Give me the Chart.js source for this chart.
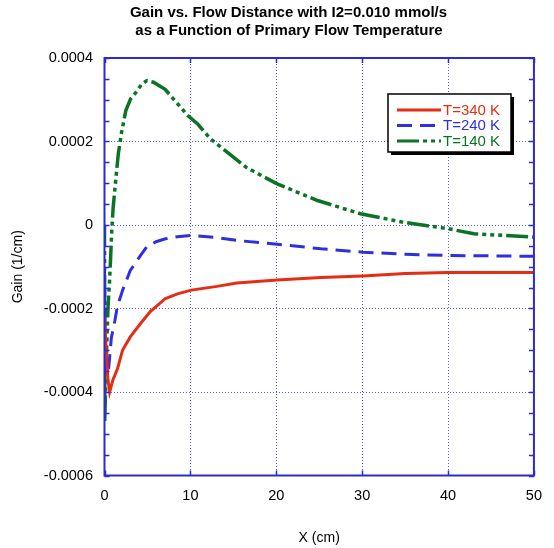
<!DOCTYPE html>
<html lang="en">
<head>
<meta charset="UTF-8">
<title>Gain vs. Flow Distance</title>
<style>
    body { margin: 0; background: #ffffff; }
    #wrap { width: 554px; height: 548px; }
</style>
<script src="https://cdn.jsdelivr.net/npm/chart.js"></script>
</head>
<body>
<div id="wrap"><canvas id="gainChart" width="554" height="548"></canvas></div>
<script>
    // Gain (1/cm) along the flow distance X (cm), one series per primary flow temperature
    const x340 = [0, 0.2, 0.4, 0.6, 1.0, 1.5, 2.1, 3.0, 4.2, 5.3, 7.1, 8.5, 10.1, 13.1, 15.4, 20.1, 25.2, 30.1, 35.0, 40.0, 45.0, 50.0];
    const gain340 = [-0.00022, -0.0003, -0.00037, -0.0004, -0.00037, -0.000345, -0.0003, -0.000268, -0.000236, -0.000208, -0.000176, -0.000165, -0.000156, -0.000147, -0.000139, -0.000132, -0.000126, -0.000122, -0.000116, -0.000114, -0.000114, -0.000114];

    const x240 = [0, 0.1, 0.3, 0.5, 0.8, 1.2, 1.5, 2.1, 3.0, 4.2, 4.9, 6.0, 7.1, 8.5, 10.1, 13.1, 15.4, 20.1, 25.2, 30.1, 35.0, 40.0, 45.0, 50.0];
    const gain240 = [-0.0001, -0.00033, -0.00036, -0.00034, -0.00027, -0.00023, -0.000195, -0.000157, -0.000109, -0.000073, -0.000053, -0.00004, -0.000033, -0.000028, -0.000025, -0.00003, -0.000037, -0.000046, -0.000057, -0.000065, -0.00007, -0.000073, -0.000074, -0.000075];

    const x140 = [0, 0.03, 0.2, 0.4, 0.6, 0.75, 0.85, 1.0, 1.16, 1.34, 1.61, 1.99, 2.48, 3.04, 3.6, 4.37, 4.94, 5.7, 7.06, 9.7, 10.84, 12.35, 16.5, 20.1, 24.8, 29.8, 34.7, 40.0, 43.0, 50.0];
    const gain140 = [0, -0.00047, -0.00033, -0.0002, -0.00013, -0.00006, -0.000013, 0.00004, 0.000075, 0.000115, 0.000171, 0.000222, 0.000274, 0.000302, 0.000316, 0.000338, 0.000346, 0.000342, 0.000325, 0.000262, 0.000242, 0.000206, 0.000138, 0.0000986, 0.0000587, 0.000027, 0.0000069, -0.0000088, -0.000021, -0.000029];

    const seriesNames = ['T=340 K', 'T=240 K', 'T=140 K'];
    const xTicks = [0, 10, 20, 30, 40, 50];
    const yTicks = [-0.0006, -0.0004, -0.0002, 0, 0.0002, 0.0004];
    const yTickLabels = ['-0.0006', '-0.0004', '-0.0002', '0', '0.0002', '0.0004'];

    const FONT = 'Arial, "Liberation Sans", sans-serif';
    const AXIS_BLUE = '#2b2bd6';
    const colors = ['#e42d12', '#2f2fe0', '#0b7323'];
    const dashes = [[], [15, 8], [22, 4, 4, 4, 4, 4, 4, 4]];

    function toPoints(xs, ys) {
        return xs.map((x, i) => ({ x: x, y: ys[i] }));
    }

    // frame, inward tick marks, title and boxed legend
    const decorations = {
        id: 'decorations',
        afterDatasetsDraw(chart) {
            const ctx = chart.ctx;
            const a = chart.chartArea;
            const xs = chart.scales.x, ys = chart.scales.y;
            ctx.save();

            ctx.strokeStyle = AXIS_BLUE;
            ctx.lineWidth = 1.5;
            ctx.beginPath();
            for (let v = -0.0006; v <= 0.00041; v += 0.00005) {
                const py = Math.round(ys.getPixelForValue(v)) + 0.5;
                ctx.moveTo(a.left, py); ctx.lineTo(a.left + 5, py);
                ctx.moveTo(a.right, py); ctx.lineTo(a.right - 5, py);
            }
            xTicks.forEach(t => {
                const px = Math.round(xs.getPixelForValue(t)) + 0.5;
                ctx.moveTo(px, a.bottom); ctx.lineTo(px, a.bottom - 5);
                ctx.moveTo(px, a.top); ctx.lineTo(px, a.top + 5);
            });
            ctx.stroke();
            ctx.lineWidth = 2;
            ctx.strokeRect(a.left, a.top, a.right - a.left, a.bottom - a.top);

            ctx.fillStyle = '#000';
            ctx.font = 'bold 15px ' + FONT;
            ctx.textAlign = 'center';
            ctx.textBaseline = 'middle';
            ctx.fillText('Gain vs. Flow Distance with I2=0.010 mmol/s', 288.5, 13);
            ctx.fillText('as a Function of Primary Flow Temperature', 289, 31);

            // legend box with drop shadow
            const bx = 388, by = 94, bw = 123, bh = 58;
            ctx.fillStyle = '#000';
            ctx.fillRect(bx + 3, by + 3, bw, bh);
            ctx.fillStyle = '#fff';
            ctx.fillRect(bx, by, bw, bh);
            ctx.strokeStyle = '#000';
            ctx.lineWidth = 1.5;
            ctx.strokeRect(bx, by, bw, bh);
            ctx.font = '15px ' + FONT;
            ctx.textAlign = 'left';
            seriesNames.forEach((name, i) => {
                const ry = 110 + i * 15.5;
                ctx.strokeStyle = colors[i];
                ctx.lineWidth = 3;
                ctx.setLineDash(dashes[i]);
                ctx.beginPath();
                ctx.moveTo(397, ry);
                ctx.lineTo(441, ry);
                ctx.stroke();
                ctx.setLineDash([]);
                ctx.fillStyle = colors[i];
                ctx.fillText(name, 443, ry + 0.5);
            });
            ctx.restore();
        }
    };

    const ctxGain = document.getElementById('gainChart').getContext('2d');
    const gainChart = new Chart(ctxGain, {
        type: 'line',
        data: {
            datasets: [
                { label: seriesNames[0], data: toPoints(x340, gain340), borderColor: colors[0], borderWidth: 3, borderDash: dashes[0] },
                { label: seriesNames[1], data: toPoints(x240, gain240), borderColor: colors[1], borderWidth: 3, borderDash: dashes[1] },
                { label: seriesNames[2], data: toPoints(x140, gain140), borderColor: colors[2], borderWidth: 3.5, borderDash: dashes[2] }
            ]
        },
        options: {
            responsive: false,
            animation: false,
            parsing: false,
            elements: { point: { radius: 0 }, line: { tension: 0, fill: false } },
            layout: { padding: { left: 0, top: 58, right: 9, bottom: 0 } },
            plugins: {
                legend: { display: false },
                title: { display: false },
                tooltip: { enabled: false }
            },
            scales: {
                x: {
                    type: 'linear',
                    min: 0,
                    max: 50,
                    afterBuildTicks: s => { s.ticks = xTicks.map(v => ({ value: v })); },
                    afterFit: s => { s.height = 72.5; },
                    grid: { color: '#5b5be8', lineWidth: 1, drawTicks: false },
                    border: { display: false, dash: [1, 2] },
                    ticks: { color: '#000', padding: 12, font: { family: FONT, size: 14.5 } },
                    title: { display: true, text: 'X (cm)', color: '#000', padding: { bottom: 1, top: 0 }, font: { family: FONT, size: 14 } }
                },
                y: {
                    type: 'linear',
                    min: -0.0006,
                    max: 0.0004,
                    afterBuildTicks: s => { s.ticks = yTicks.map(v => ({ value: v })); },
                    afterFit: s => { s.width = 104.5; },
                    grid: { color: '#5b5be8', lineWidth: 1, drawTicks: false },
                    border: { display: false, dash: [1, 2] },
                    ticks: {
                        color: '#000',
                        padding: 11.5,
                        font: { family: FONT, size: 14.5 },
                        callback: (v, i) => yTickLabels[i]
                    },
                    title: { display: true, text: 'Gain (1/cm)', color: '#000', padding: { top: 10, bottom: 0 }, font: { family: FONT, size: 14 } }
                }
            }
        },
        plugins: [decorations]
    });
</script>
</body>
</html>
